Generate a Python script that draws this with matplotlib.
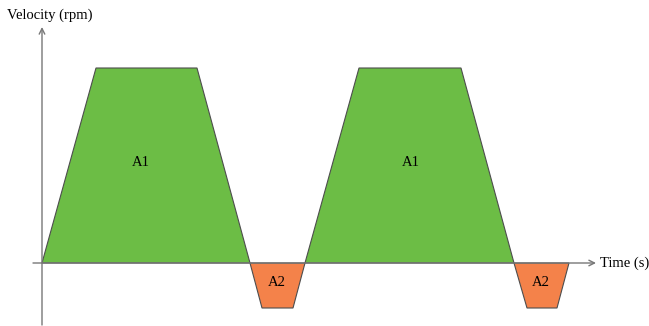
import matplotlib.pyplot as plt
from matplotlib.patches import Polygon

# velocity profile corner points (time, velocity), arbitrary units
time = [0, 54, 155, 208, 220, 251, 263, 317, 419, 472, 485, 515, 527]
velocity = [0, 195, 195, 0, -45, -45, 0, 195, 195, 0, -45, -45, 0]

# which points belong to each area
segments = [(0, 3, "A1"), (3, 6, "A2"), (6, 9, "A1"), (9, 12, "A2")]
label_pos = {0: (99, 100), 1: (235, -20), 2: (369, 100), 3: (499, -20)}

green = "#6cbd45"
orange = "#f4824a"
edge = "#4d4d4d"
axis_col = "#777777"

plt.rcParams['font.family'] = ['Liberation Serif', 'DejaVu Serif']

fig = plt.figure(figsize=(6.49, 3.26), dpi=100)
ax = fig.add_axes([0, 0, 1, 1])
ax.set_xlim(-42, 607)
ax.set_ylim(-63, 263)
ax.axis('off')

for i, (a, b, name) in enumerate(segments):
    pts = list(zip(time[a:b + 1], velocity[a:b + 1]))
    col = green if name == "A1" else orange
    ax.add_patch(Polygon(pts, closed=True, facecolor=col, edgecolor=edge, lw=0.8, zorder=2))
    x, y = label_pos[i]
    ax.text(x, y, name, ha='center', va='center', fontsize=10.5, zorder=4)

# axes with arrows
ax.annotate("", xy=(554, 0), xytext=(-9, 0),
            arrowprops=dict(arrowstyle='->', color=axis_col, lw=1, shrinkA=0, shrinkB=0), zorder=3)
ax.annotate("", xy=(0, 236), xytext=(0, -62),
            arrowprops=dict(arrowstyle='->', color=axis_col, lw=1, shrinkA=0, shrinkB=0), zorder=3)

ax.text(558, 0, "Time (s)", ha='left', va='center', fontsize=10.5)
ax.text(8, 248, "Velocity (rpm)", ha='center', va='center', fontsize=10.5)

fig.savefig("out.png", dpi=100)
